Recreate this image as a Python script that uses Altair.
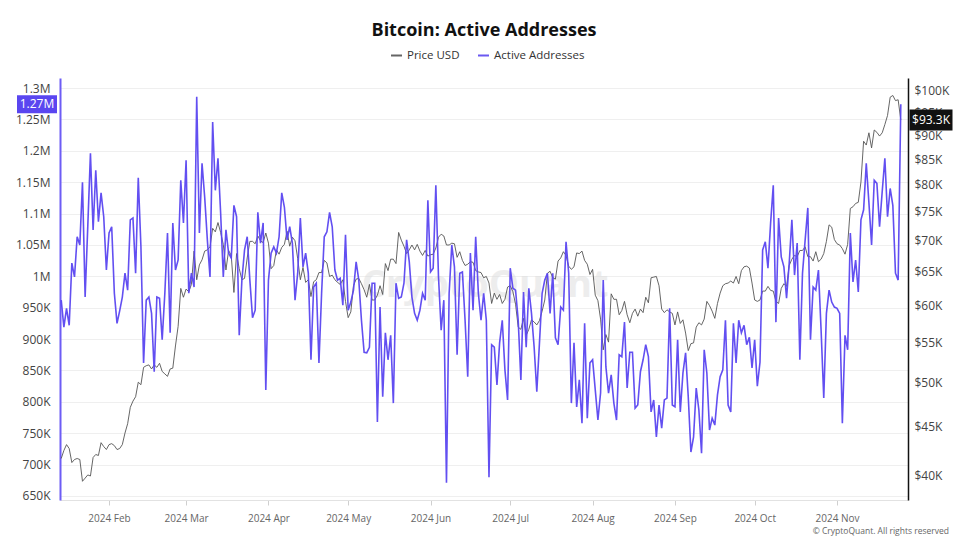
import altair as alt
import pandas as pd

start_date = "2024-01-14"

# Active addresses (thousands), daily from 2024-01-14
active_k = [
    962, 919, 949, 922, 1021, 999, 1063, 1050, 1150, 967, 1080, 1196, 1074, 1169, 1087, 1133,
    1095, 1010, 1069, 1079, 973, 925, 945, 967, 1005, 978, 1090, 1093, 1005, 1157, 1047, 862,
    962, 967, 941, 848, 967, 965, 899, 973, 1069, 910, 1085, 1010, 1026, 1153, 1085, 1185,
    973, 1005, 983, 1286, 1069, 1180, 1126, 1058, 999, 1246, 1137, 1188, 1101,
    999, 1074, 1037, 1029, 1113, 1095, 906, 994, 1042, 1063, 994, 934, 946, 1102, 1053, 1085,
    819, 994, 1037, 1047, 1037, 1063, 1133, 1110, 1058, 1079, 1053, 962, 1005, 1093, 1015, 1037, 1005,
    867, 983, 989, 862, 973, 1063, 1071, 1102, 1079, 1010, 994, 997, 954, 1066, 946, 959,
    978, 1023, 994, 930, 879, 878, 887, 989, 989, 768, 951, 808, 910, 867, 906,
    798, 989, 965, 967, 989, 1058, 1023, 967, 941, 930, 946, 973, 962, 1121, 1007, 1013,
    1145, 999, 914, 962, 671, 973, 1050, 1015, 875, 1005, 1007, 930, 840, 1037, 946, 1063,
    973, 930, 973, 930, 680, 891, 887, 827, 894, 930, 851, 803, 1013, 981, 978, 930, 835,
    975, 887, 981, 941, 887, 816, 894, 973, 994, 1005, 941, 1005, 902, 891, 951, 946, 1055, 1005,
    798, 894, 792, 835, 766, 925, 774, 862, 867, 819, 771, 814, 994, 856, 814, 843,
    798, 771, 875, 872, 927, 822, 879, 879, 790, 795, 848, 867, 891, 872, 784, 803,
    744, 795, 758, 803, 806, 949, 795, 792, 899, 784, 846, 878, 808, 720, 744, 822,
    787, 718, 883, 846, 755, 774, 763, 811, 840, 851, 930, 795, 784, 925, 862, 930,
    910, 922, 891, 903, 854, 899, 825, 863, 1042, 1055, 1013, 1085, 1145, 927, 1093, 1031,
    1015, 965, 1021, 1090, 1002, 1053, 867, 1005, 1058, 1109, 899, 983, 978, 1010, 914, 806,
    941, 978, 959, 951, 949, 941, 766, 906, 883, 1069, 991, 1026, 975, 1090, 1106, 1180,
    1117, 1050, 1153, 1148, 1079, 1135, 1188, 1095, 1140, 1113, 1005, 994, 1274,
]

# BTC price (thousands USD), daily from 2024-01-14
price_k = [
    41.7, 42.5, 43.1, 42.7, 41.3, 41.6, 41.7, 41.6, 39.5, 39.8, 40.1, 40.0, 41.8, 42.1, 42.0, 43.3, 42.9, 42.6,
    43.1, 43.2, 43.0, 42.6, 42.7, 43.1, 44.3, 45.3, 47.1, 47.8, 48.3, 50.0, 49.7, 51.8, 52.0, 52.1,
    51.6, 52.1, 51.8, 52.3, 51.3, 51.0, 50.7, 51.6, 51.7, 54.5, 57.1, 62.5, 61.2,
    62.4, 62.0, 63.1, 68.3, 63.8, 66.1, 66.9, 68.3, 68.5, 69.0, 72.1, 71.5, 73.1, 71.4, 69.4, 65.3,
    68.4, 67.6, 61.9, 67.9, 65.5, 63.8, 64.0, 67.2, 69.9, 69.9, 69.5, 70.8, 70.0, 69.7, 71.3,
    69.6, 65.5, 66.0, 68.5, 67.8, 68.9, 69.4, 71.6, 69.1, 70.6, 70.0, 67.1, 63.8, 65.7, 63.4,
    63.8, 61.3, 63.5, 63.8, 64.9, 64.9, 66.8, 66.4, 64.3, 64.5, 63.8, 63.4, 63.1, 63.8, 60.6,
    58.3, 59.1, 62.9, 63.9, 64.0, 63.2, 62.3, 61.2, 63.1, 60.8, 60.8, 61.5, 62.9, 61.6, 66.3, 65.2,
    67.0, 67.0, 66.3, 71.4, 70.1, 69.1, 67.9, 68.5, 69.3, 68.5, 69.4, 68.3, 67.6, 68.4, 67.5,
    67.7, 67.8, 68.8, 70.6, 71.1, 70.8, 69.3, 69.3, 69.6, 69.5, 67.3, 68.2, 66.8, 66.0, 66.2,
    66.6, 66.5, 65.2, 65.0, 64.9, 64.1, 64.3, 63.3, 60.3, 61.8, 60.9, 61.6, 60.3, 60.9, 62.7,
    62.9, 62.0, 60.2, 57.0, 56.7, 58.2, 55.9, 56.7, 58.0, 57.7, 57.3, 57.9, 59.2, 60.8, 64.8, 65.1,
    64.1, 63.9, 66.7, 67.2, 68.2, 67.6, 65.9, 65.4, 65.8, 68.0, 67.9, 68.3, 66.8, 66.2, 64.6,
    65.4, 61.5, 60.7, 58.1, 54.0, 56.0, 55.0, 61.7, 60.9, 60.9, 58.7, 59.3, 60.6, 58.7, 57.6, 58.9,
    59.5, 58.5, 59.5, 59.0, 61.2, 60.4, 64.1, 64.2, 64.3, 62.9, 59.5, 59.0, 59.4, 59.1, 58.9,
    57.3, 59.1, 57.5, 58.0, 56.2, 53.9, 54.8, 54.9, 57.0, 57.6, 57.3, 58.1, 60.6, 60.0, 59.2,
    58.2, 60.3, 61.8, 62.9, 63.2, 63.3, 63.6, 63.3, 64.3, 63.2, 65.2, 65.8, 65.9, 65.6, 63.3,
    60.8, 60.6, 60.8, 62.1, 62.1, 62.8, 62.2, 62.1, 60.6, 60.3, 62.5, 63.2, 62.8, 66.0, 67.0, 67.6,
    67.4, 68.4, 68.4, 69.0, 67.4, 67.4, 66.7, 68.2, 66.6, 67.0, 67.9, 69.9, 72.7, 72.3, 70.2,
    69.5, 69.3, 68.7, 67.8, 69.4, 75.6, 75.9, 76.5, 76.7, 80.5, 88.7, 87.9, 90.5, 87.3, 91.1,
    90.6, 89.8, 90.5, 92.3, 94.3, 98.5, 98.9, 97.7, 97.9, 93.3,
]

series_names = ["Price USD", "Active Addresses"]
series_colors = ["#555555", "#5a46f0"]
month_ticks = [(2024, m) for m in range(2, 12)]
left_ticks = [650000 + 50000 * i for i in range(14)]
right_ticks = [40000 + 5000 * i for i in range(13)]

n = min(len(active_k), len(price_k))
dates = pd.date_range(start_date, periods=n, freq="D")
df = pd.DataFrame({
    "date": dates,
    "active": [v * 1000 for v in active_k[:n]],
    "price": [v * 1000 for v in price_k[:n]],
})
last = df.iloc[[-1]].copy()

FONT = "Open Sans"

x_enc = alt.X(
    "date:T",
    scale=alt.Scale(domain=[alt.DateTime(year=2024, month=1, date=13, hours=13),
                            alt.DateTime(year=2024, month=11, date=27, hours=17)]),
    axis=alt.Axis(values=[alt.DateTime(year=y, month=m, date=1) for y, m in month_ticks],
                  format="%Y %b", title=None, grid=False, domainColor="#e2e2e2",
                  tickColor="#cfcfcf", tickSize=5, labelColor="#666666", labelFontSize=10,
                  labelPadding=8, labelFont=FONT),
)

color_scale = alt.Scale(domain=series_names, range=series_colors)
legend = alt.Legend(title=None, orient="none", legendX=330, legendY=-29, direction="horizontal",
                    symbolType="stroke", symbolStrokeWidth=2, symbolSize=120,
                    labelFont=FONT, labelFontSize=11.5, labelColor="#333333", columnPadding=14)

y_price_scale = alt.Scale(type="log", domain=[37780, 103100], nice=False)
y_active_scale = alt.Scale(domain=[643600, 1316000], nice=False, zero=False)

price_axis = alt.Axis(orient="right", values=right_ticks, title=None, grid=False,
                      ticks=False, domainColor="#111111", domainWidth=1.5, labelOverlap=False,
                      labelExpr="'$' + format(datum.value/1000, '.0f') + 'K'",
                      labelColor="#444444", labelFontSize=12, labelFont=FONT, labelPadding=6)

active_axis = alt.Axis(orient="left", values=left_ticks, tickCount=14, title=None, grid=True,
                       gridColor="#efefef", ticks=False, domainColor="#6d5cf5", domainWidth=2,
                       labelOverlap=False,
                       labelExpr="datum.value >= 1000000 ? format(datum.value/1000000, '.3~f') + 'M' : format(datum.value/1000, '.0f') + 'K'",
                       labelColor="#444444", labelFontSize=12, labelFont=FONT, labelPadding=10)

price_line = alt.Chart(df).mark_line(strokeWidth=1, opacity=0.9).transform_calculate(
    series="'Price USD'"
).encode(
    x=x_enc,
    y=alt.Y("price:Q", scale=y_price_scale, axis=price_axis),
    color=alt.Color("series:N", scale=color_scale, legend=legend),
)

watermark = alt.Chart(pd.DataFrame({"t": ["CryptoQuant"]})).mark_text(
    fontSize=38, font=FONT, fontWeight="bold", color="#d9d9d9", opacity=0.45,
    align="center", baseline="middle"
).encode(x=alt.value(425), y=alt.value(208), text="t:N")

price_box = alt.Chart(last).mark_point(
    shape="M-1,-0.49H1V0.49H-1Z", size=1850, filled=True, opacity=1, color="#111111"
).encode(x=alt.value(871), y=alt.Y("price:Q", scale=y_price_scale, axis=price_axis))

price_text = alt.Chart(last).transform_calculate(
    lab="'$' + format(datum.price/1000, '.1f') + 'K'"
).mark_text(color="white", fontSize=12, font=FONT, align="center", baseline="middle").encode(
    x=alt.value(871), y=alt.Y("price:Q", scale=y_price_scale, axis=price_axis), text="lab:N")

price_layer = alt.layer(watermark, price_line, price_box, price_text)

active_line = alt.Chart(df).mark_line(strokeWidth=1.6, opacity=0.95).transform_calculate(
    series="'Active Addresses'"
).encode(
    x=x_enc,
    y=alt.Y("active:Q", scale=y_active_scale, axis=active_axis),
    color=alt.Color("series:N", scale=color_scale, legend=legend),
)

active_box = alt.Chart(last).mark_point(
    shape="M-1,-0.45H1V0.45H-1Z", size=1600, filled=True, opacity=1, color="#5a46f0"
).encode(x=alt.value(-23), y=alt.Y("active:Q", scale=y_active_scale, axis=active_axis))

active_text = alt.Chart(last).transform_calculate(
    lab="format(datum.active/1000000, '.2f') + 'M'"
).mark_text(color="white", fontSize=12, font=FONT, align="center", baseline="middle").encode(
    x=alt.value(-23), y=alt.Y("active:Q", scale=y_active_scale, axis=active_axis), text="lab:N")

copyright_text = alt.Chart(pd.DataFrame({"t": ["\u00a9 CryptoQuant. All rights reserved"]})).mark_text(
    fontSize=8.5, font=FONT, color="#666666", align="right", baseline="alphabetic"
).encode(x=alt.value(889), y=alt.value(456), text="t:N")

active_layer = alt.layer(active_line, active_box, active_text, copyright_text)

chart = alt.layer(price_layer, active_layer).resolve_scale(
    y="independent"
).properties(
    width=848, height=422,
    autosize=alt.AutoSizeParams(type="none"),
    padding={"left": 52, "top": 70, "right": 46, "bottom": 36},
    background="white",
    title=alt.Title("Bitcoin: Active Addresses", fontSize=18, font=FONT, fontWeight="bold",
                    color="#111111", anchor="middle", offset=9),
).configure_view(stroke=None)

chart.save("out.html", embed_options={"renderer": "svg", "actions": False})
